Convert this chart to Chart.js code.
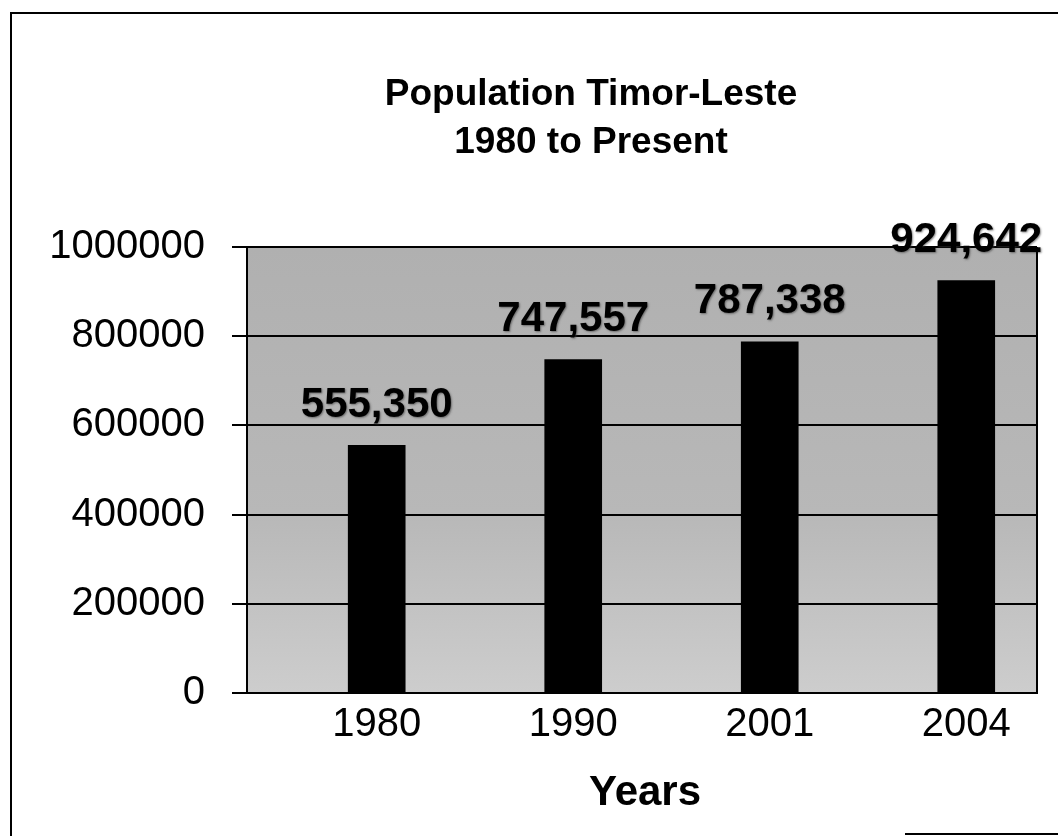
<!DOCTYPE html>
<html>
<head>
<meta charset="utf-8">
<script src="https://cdn.jsdelivr.net/npm/chart.js@4/dist/chart.umd.min.js"></script>
<style>
  html, body { margin: 0; padding: 0; background: #fff; }
  #wrap { position: relative; width: 1058px; height: 836px; overflow: hidden; }
  #frame { position: absolute; left: 10px; top: 12px; width: 1060px; height: 840px;
           border-top: 2px solid #000; border-left: 2px solid #000; pointer-events: none; }
  #foot { position: absolute; left: 905px; top: 833px; width: 160px; height: 0;
          border-top: 2px solid #000; }
</style>
</head>
<body>
<div id="wrap">
  <canvas id="chart" width="1058" height="836"></canvas>
  <div id="frame"></div>
  <div id="foot"></div>
</div>
<script>
// -------- data --------
const years = ['1980', '1990', '2001', '2004'];
const population = [555350, 747557, 787338, 924642];
const yTicks = [0, 200000, 400000, 600000, 800000, 1000000];

const titleLines = ['Population Timor-Leste', '1980 to Present'];
const xTitle = 'Years';
const FONT = '"Liberation Sans", Arial, sans-serif';

// -------- plugins --------
const plotBg = {
  id: 'plotBg',
  beforeDraw(chart){
    const {ctx, chartArea: a} = chart;
    ctx.save();
    ctx.fillStyle = '#fff';
    ctx.fillRect(0, 0, chart.width, chart.height);
    let g = ctx.createLinearGradient(0, a.top, 0, a.bottom);
    g.addColorStop(0, '#b0b0b0');
    g.addColorStop(0.6, '#b8b8b8');
    g.addColorStop(1, '#cdcdcd');
    ctx.fillStyle = g;
    ctx.fillRect(a.left, a.top, a.right - a.left, a.bottom - a.top);
    ctx.restore();
  },
  afterDraw(chart){
    const {ctx, chartArea: a} = chart;
    ctx.save();
    // right edge of plot
    ctx.strokeStyle = '#000';
    ctx.lineWidth = 2;
    ctx.beginPath();
    ctx.moveTo(a.right, a.top);
    ctx.lineTo(a.right, a.bottom);
    ctx.stroke();
    // titles
    ctx.fillStyle = '#000';
    ctx.textAlign = 'center';
    ctx.textBaseline = 'middle';
    ctx.font = 'bold 37px ' + FONT;
    ctx.fillText(titleLines[0], 591, 95);
    ctx.fillText(titleLines[1], 591, 143);
    ctx.font = 'bold 42px ' + FONT;
    ctx.fillText(xTitle, 645, 793);
    ctx.restore();
  }
};

const barLabels = {
  id: 'barLabels',
  afterDatasetsDraw(chart){
    const {ctx} = chart;
    const meta = chart.getDatasetMeta(0);
    ctx.save();
    ctx.font = 'bold 42px ' + FONT;
    ctx.textAlign = 'center';
    ctx.textBaseline = 'middle';
    ctx.fillStyle = '#000';
    ctx.shadowColor = 'rgba(60,60,60,0.6)';
    ctx.shadowBlur = 2;
    ctx.shadowOffsetX = 1;
    ctx.shadowOffsetY = 1;
    meta.data.forEach((bar, i)=>{
      ctx.fillText(population[i].toLocaleString('en-US'), bar.x, bar.y - 40);
    });
    ctx.restore();
  }
};

// -------- chart --------
new Chart(document.getElementById('chart'), {
  type: 'bar',
  data: {
    datasets: [{
      data: population.map((v, i)=>({x: i, y: v})),
      backgroundColor: '#000',
      borderWidth: 0,
      barThickness: 57
    }]
  },
  options: {
    responsive: false,
    animation: false,
    layout: { padding: { left: 0, right: 21, top: 247, bottom: 0 } },
    plugins: { legend: { display: false }, title: { display: false }, tooltip: { enabled: false } },
    scales: {
      x: {
        type: 'linear',
        offset: false,
        min: -0.66,
        max: 3.36,
        afterBuildTicks: s=>{
          s.ticks = years.map((y, i)=>({value: i}));
        },
        afterFit: s=>{ s.height = 836 - 693; },
        grid: { display: false, offset: false },
        border: { display: true, color: '#000', width: 2 },
        ticks: {
          autoSkip: false,
          maxRotation: 0,
          padding: 0,
          color: '#000',
          font: { family: FONT, size: 40 },
          callback: v=>years[v]
        }
      },
      y: {
        min: 0,
        max: 1000000,
        afterBuildTicks: s=>{ s.ticks = yTicks.map(v=>({value: v})); },
        afterFit: s=>{ s.width = 247; },
        grid: { color: '#000', lineWidth: 2, tickLength: 15, drawTicks: true },
        border: { display: true, color: '#000', width: 2 },
        ticks: {
          padding: 27,
          color: '#000',
          font: { family: FONT, size: 40 },
          callback: v=>String(v)
        }
      }
    }
  },
  plugins: [plotBg, barLabels]
});
</script>
</body>
</html>
